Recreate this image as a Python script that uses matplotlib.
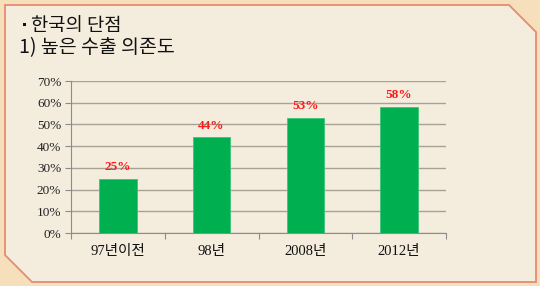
import matplotlib

matplotlib.use("Agg")
import matplotlib.pyplot as plt
from matplotlib.patches import Polygon
from matplotlib.ticker import MultipleLocator, PercentFormatter

# data
categories = ["97년이전", "98년", "2008년", "2012년"]
shares = [25, 44, 53, 58]
value_labels = ["25%", "44%", "53%", "58%"]
title_lines = ["한국의 단점", "1) 높은 수출 의존도"]

W, H = 540, 286
fig = plt.figure(figsize=(W / 100, H / 100), dpi=100)
fig.patch.set_facecolor("#F6E0BC")

# slide frame with cut corners (pixel coords -> figure fraction)
frame_px = [(5, 5), (509, 5), (536, 32), (536, 282), (32, 282), (5, 255)]
frame = Polygon(
    [(x / W, 1 - y / H) for x, y in frame_px],
    closed=True,
    transform=fig.transFigure,
    facecolor="#F4ECDD",
    edgecolor="#E98A72",
    linewidth=1.3,
    zorder=-5,
)
fig.patches.append(frame)

kr = ["Noto Sans CJK KR", "DejaVu Sans"]
serif_kr = ["Liberation Serif", "Noto Sans CJK KR"]

fig.text(19 / W, 1 - 26 / H, "▪", fontsize=8, family=kr, va="center", color="#111111")
fig.text(31 / W, 1 - 26 / H, title_lines[0], fontsize=13.5, family=kr, va="center", color="#111111")
fig.text(19 / W, 1 - 48 / H, title_lines[1], fontsize=14, family=kr, va="center", color="#111111")

ax = fig.add_axes([71 / W, 1 - 233 / H, 375 / W, 152 / H])
ax.set_facecolor("none")

x = range(len(categories))
ax.bar(x, shares, width=0.4, color="#00B050", edgecolor="#3CC47A", linewidth=0.6, zorder=3)
for xi, v, lab in zip(x, shares, value_labels):
    ax.text(xi, v + 2.6, lab, ha="center", va="bottom", color="#FF1A1A",
            fontsize=9.5, fontweight="bold", family="Liberation Serif")

ax.set_xlim(-0.5, len(categories) - 0.5)
ax.set_ylim(0, 70)
ax.yaxis.set_major_locator(MultipleLocator(10))
ax.yaxis.set_major_formatter(PercentFormatter(decimals=0))
ax.grid(axis="y", color="#A8A196", linewidth=1.0, zorder=1)

ax.set_xticks([i - 0.5 for i in range(len(categories) + 1)], minor=False)
ax.set_xticklabels([])
ax.set_xticks(list(x), minor=True)
ax.set_xticklabels(categories, minor=True, family=serif_kr, fontsize=10.5, color="#111111")
ax.tick_params(axis="x", which="minor", length=0, pad=9)
ax.tick_params(axis="x", which="major", length=4, color="#8C8C8C", direction="out")
ax.tick_params(axis="y", length=4, color="#8C8C8C", direction="out", pad=3)
for lab in ax.get_yticklabels():
    lab.set_family("Liberation Serif")
    lab.set_fontsize(9.5)
    lab.set_color("#222222")

for side in ("top", "right"):
    ax.spines[side].set_visible(False)
ax.spines["left"].set_color("#8C8C8C")
ax.spines["bottom"].set_color("#8C8C8C")

fig.savefig("out.png", dpi=100)
